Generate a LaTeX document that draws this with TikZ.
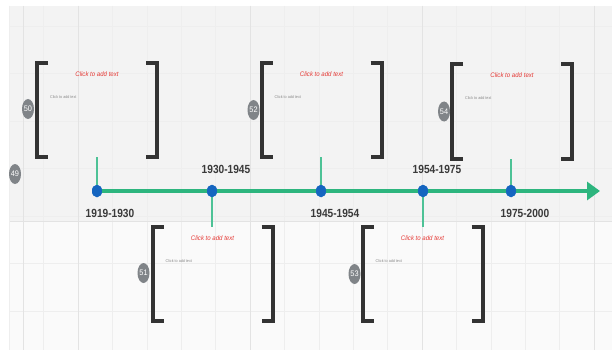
\documentclass[tikz,border=0pt]{standalone}
\usepackage{fontspec}
\setmainfont{Liberation Sans}
\newfontfamily\narrowfont[FakeStretch=0.92]{Liberation Sans}
\newfontfamily\condfont[FakeStretch=0.86]{Liberation Sans}
\usetikzlibrary{arrows.meta,shapes.geometric}
\definecolor{bandgray}{HTML}{F3F3F3}
\definecolor{lowgray}{HTML}{FAFAFA}
\definecolor{gridmaj}{HTML}{E3E3E3}
\definecolor{gridmin}{HTML}{EEEEEE}
\definecolor{tlgreen}{HTML}{2DB57E}
\definecolor{tickgreen}{HTML}{4DC296}
\definecolor{dotblue}{HTML}{1565C0}
\definecolor{brkdark}{HTML}{333333}
\definecolor{clickred}{HTML}{E53935}
\definecolor{badgegray}{HTML}{808488}
\definecolor{yeartext}{HTML}{3A3A3A}
\definecolor{smallgray}{HTML}{8A8A8A}
\begin{document}
\begin{tikzpicture}[x=1pt,y=-1pt,
  bbox/.style={rectangle,minimum width=120pt,minimum height=94pt,inner sep=0pt,outer sep=0pt},
  brk/.style={draw=brkdark,line width=4pt,line join=miter},
  mainline/.style={draw=tlgreen,line width=4.5pt,-{Triangle[length=13pt,width=18pt]}},
  tickline/.style={draw=tickgreen,line width=2pt},
  dot/.style={ellipse,fill=dotblue,minimum width=10pt,minimum height=12.5pt,inner sep=0pt},
  yearlbl/.style={font=\condfont\bfseries\fontsize{11.8}{13}\selectfont,text=yeartext,inner sep=0pt},
  redtxt/.style={font=\narrowfont\itshape\fontsize{6.6}{8}\selectfont,text=clickred,inner sep=0pt},
  smalltxt/.style={font=\narrowfont\fontsize{4}{5}\selectfont,text=smallgray,inner sep=0pt,anchor=west},
  badge/.style={ellipse,fill=badgegray,minimum width=12pt,minimum height=20pt,inner sep=0pt,
    font=\narrowfont\fontsize{8}{9}\selectfont,text=white}
]
\useasboundingbox (0,0) rectangle (612,350);
% background
\fill[white] (0,0) rectangle (612,350);
\fill[bandgray] (10,6) rectangle (612,221);
\fill[lowgray] (10,221) rectangle (612,350);
% grid
\foreach \k in {0,...,17} {
  \pgfmathsetmacro{\gx}{9.2+34.4*\k}
  \draw[gridmin,line width=0.6pt] (\gx,6) -- (\gx,350);
}
\foreach \k in {0,...,6} {
  \pgfmathsetmacro{\gy}{26+47.5*\k}
  \draw[gridmin,line width=0.6pt] (10,\gy) -- (612,\gy);
}
\foreach \gx in {23,78,250,422,594} {
  \draw[gridmaj,line width=0.8pt] (\gx,6) -- (\gx,350);
}
\draw[gridmaj,line width=0.6pt] (10,221) -- (612,221);

% bracket boxes
\node[bbox] (b50) at (97,110) {};
\node[bbox] (b52) at (321.5,110) {};
\node[bbox] (b54) at (512,111.5) {};
\node[bbox] (b51) at (212.5,274) {};
\node[bbox] (b53) at (422.5,274) {};
\foreach \b in {b50,b52,b54,b51,b53} {
  \draw[brk] ([xshift=11pt]\b.north west) -- (\b.north west) -- (\b.south west) -- ([xshift=11pt]\b.south west);
  \draw[brk] ([xshift=-11pt]\b.north east) -- (\b.north east) -- (\b.south east) -- ([xshift=-11pt]\b.south east);
}
% texts in boxes
\node[redtxt] (r50) at ([yshift=-11pt]b50.north) {Click to add text};
\node[redtxt] (r52) at ([yshift=-11pt]b52.north) {Click to add text};
\node[redtxt] (r54) at ([yshift=-11pt]b54.north) {Click to add text};
\node[redtxt] (r51) at ([yshift=-11pt]b51.north) {Click to add text};
\node[redtxt] (r53) at ([yshift=-11pt]b53.north) {Click to add text};
\node[smalltxt] (s50) at ([xshift=13pt,yshift=-34pt]b50.north west) {Click to add text};
\node[smalltxt] (s52) at ([xshift=13pt,yshift=-34pt]b52.north west) {Click to add text};
\node[smalltxt] (s54) at ([xshift=13pt,yshift=-34pt]b54.north west) {Click to add text};
\node[smalltxt] (s51) at ([xshift=13pt,yshift=-34pt]b51.north west) {Click to add text};
\node[smalltxt] (s53) at ([xshift=13pt,yshift=-34pt]b53.north west) {Click to add text};
% badges
\node[badge] (n49) at (15,174) {49};
\node[badge] (n50) at ([xshift=-9pt,yshift=1pt]b50.west) {50};
\node[badge] (n52) at ([xshift=-8pt]b52.west) {52};
\node[badge] (n54) at ([xshift=-8pt]b54.west) {54};
\node[badge] (n51) at ([xshift=-9pt,yshift=1pt]b51.west) {51};
\node[badge] (n53) at ([xshift=-8pt]b53.west) {53};

% timeline
\coordinate (tip) at (600,191);
\node[dot] (d1) at (97,191) {};
\node[dot] (d2) at (212,191) {};
\node[dot] (d3) at (321,191) {};
\node[dot] (d4) at (423,191) {};
\node[dot] (d5) at (511,191) {};
\draw[tickline] (d1.center) -- (b50.south -| d1);
\draw[tickline] (d3.center) -- (b52.south -| d3);
\draw[tickline] (d5.center) -- (b54.south -| d5);
\draw[tickline] (d2.center) -- (b51.north -| d2);
\draw[tickline] (d4.center) -- (b53.north -| d4);
\draw[mainline] (d1.center) -- (tip);
\foreach \d in {d1,d2,d3,d4,d5} { \node[dot] at (\d) {}; }

% year labels
\node[yearlbl] (y1) at (110,213) {1919-1930};
\node[yearlbl] (y2) at (226,169) {1930-1945};
\node[yearlbl] (y3) at (335,213) {1945-1954};
\node[yearlbl] (y4) at (437,169) {1954-1975};
\node[yearlbl] (y5) at (525,213) {1975-2000};
\end{tikzpicture}
\end{document}
